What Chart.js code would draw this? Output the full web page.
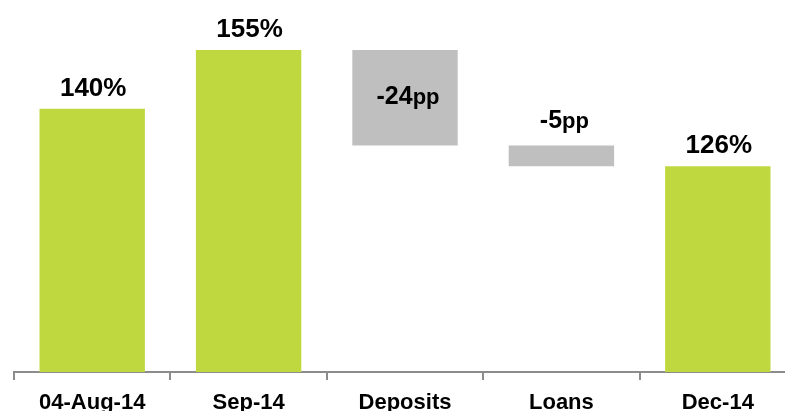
<!DOCTYPE html>
<html>
<head>
<meta charset="utf-8">
<script src="https://cdn.jsdelivr.net/npm/chart.js@4.4.0/dist/chart.umd.min.js"></script>
<style>
  html, body { margin: 0; padding: 0; background: #fff; overflow: hidden; }
  #wrap { width: 800px; height: 411px; position: relative; }
</style>
</head>
<body>
<div id="wrap"><canvas id="mycanvas"></canvas></div>
<script>
// waterfall: totals and changes
var categories = ['04-Aug-14', 'Sep-14', 'Deposits', 'Loans', 'Dec-14'];
var kinds = ['total', 'total', 'delta', 'delta', 'total'];
var values = [140, 155, -24.4, -5.3, 125.3];
var valueLabels = ['140%', '155%', '-24pp', '-5pp', '126%'];
var axisMin = 72.7;
var axisMax = 167.8;

var green = '#C0D83F';
var grey = '#BFBFBF';
var font = "'Liberation Sans', Arial, sans-serif";

var ranges = [];
var colors = [];
var running = 0;
for (var i in values) {
	if (kinds[i] == 'total') {
		running = values[i];
		ranges.push([axisMin, values[i]]);
		colors.push(green);
	} else {
		ranges.push([running, running + values[i]]);
		running = running + values[i];
		colors.push(grey);
	}
}

var labelPlugin = {
	id: 'barLabels',
	afterDatasetsDraw: function(chart) {
		var ctx = chart.ctx;
		var meta = chart.getDatasetMeta(0);
		ctx.save();
		ctx.fillStyle = '#000';
		meta.data.forEach(function(bar, i) {
			var top = Math.min(bar.y, bar.base);
			var bottom = Math.max(bar.y, bar.base);
			var text = valueLabels[i];
			var m = text.match(/^(-?\d+)(pp)$/);
			if (m) {
				ctx.font = 'bold 25px ' + font;
				var w1 = ctx.measureText(m[1]).width;
				ctx.font = 'bold 22px ' + font;
				var w2 = ctx.measureText(m[2]).width;
				var x0 = bar.x - (w1 + w2) / 2 + 3;
				var y;
				if (bottom - top > 50) {
					y = (top + bottom) / 2 + 6;
				} else {
					y = top - 18;
				}
				ctx.textAlign = 'left';
				ctx.textBaseline = 'alphabetic';
				ctx.font = 'bold 25px ' + font;
				ctx.fillText(m[1], x0, y);
				ctx.font = 'bold 22px ' + font;
				ctx.fillText(m[2], x0 + w1, y);
			} else {
				ctx.font = 'bold 26px ' + font;
				ctx.textAlign = 'center';
				ctx.textBaseline = 'alphabetic';
				ctx.fillText(text, bar.x + 1, top - 13);
			}
		});
		ctx.restore();
	}
};

var chartdata = {
	labels: categories,
	datasets: [{
		data: ranges,
		backgroundColor: colors,
		borderWidth: 0,
		categoryPercentage: 1,
		barPercentage: 0.674
	}]
};

new Chart(document.getElementById('mycanvas'), {
	type: 'bar',
	data: chartdata,
	plugins: [labelPlugin],
	options: {
		responsive: true,
		maintainAspectRatio: false,
		animation: false,
		layout: { padding: { left: 14, right: 4, top: 0, bottom: 0 } },
		plugins: {
			legend: { display: false },
			tooltip: { enabled: false }
		},
		scales: {
			y: { display: false, min: axisMin, max: axisMax },
			x: {
				grid: {
					drawOnChartArea: false,
					drawTicks: true,
					tickLength: 8,
					color: '#8c8c8c',
					lineWidth: 2
				},
				border: { display: true, color: '#8c8c8c', width: 2 },
				ticks: {
					color: '#000',
					padding: 10,
					font: { family: font, size: 22, weight: 'bold' }
				},
				afterFit: function(scale) { scale.height = 39; }
			}
		}
	}
});
</script>
</body>
</html>
